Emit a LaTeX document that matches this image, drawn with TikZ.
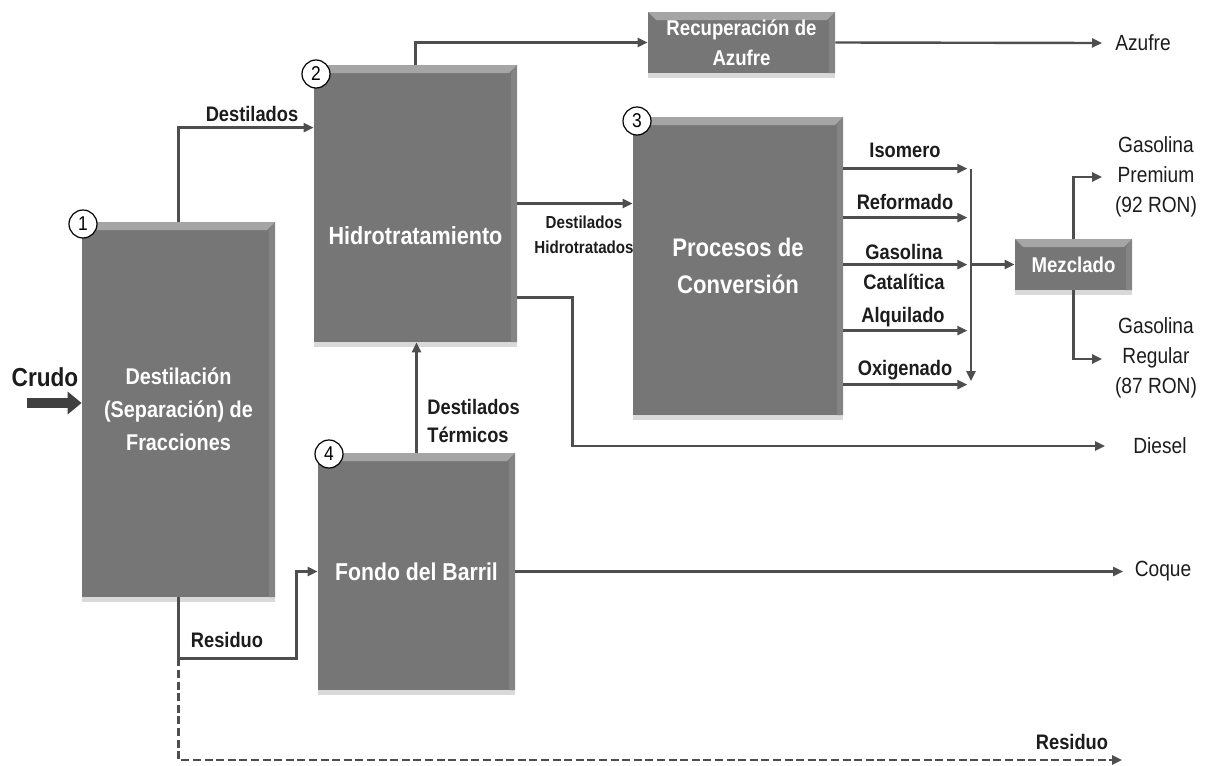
\documentclass[tikz,border=0pt]{standalone}
\usepackage{fontspec}
\setmainfont{Liberation Sans}[FakeStretch=0.87]
\usetikzlibrary{arrows.meta, calc, positioning, shadows}

\definecolor{boxgray}{RGB}{118,118,118}
\definecolor{boxtop}{RGB}{165,165,165}
\definecolor{boxside}{RGB}{132,132,132}
\definecolor{linegray}{RGB}{78,78,78}
\definecolor{txtdark}{RGB}{28,28,28}

\tikzset{
  unit/.style={rectangle, fill=boxgray, inner sep=0pt, text=white, align=center,
    drop shadow={shadow xshift=0pt, shadow yshift=-2.5pt, opacity=0.3},
    path picture={
      \fill[boxtop] (path picture bounding box.north west) -- (path picture bounding box.north east)
        -- ([xshift=-4pt,yshift=-4pt]path picture bounding box.north east)
        -- ([xshift=4pt,yshift=-4pt]path picture bounding box.north west) -- cycle;
      \fill[boxside] (path picture bounding box.north east) -- (path picture bounding box.south east)
        -- ([xshift=-3pt]path picture bounding box.south east)
        -- ([xshift=-3pt,yshift=-4pt]path picture bounding box.north east) -- cycle;
    }},
  num/.style={circle, draw=black, line width=0.6pt, fill=white, inner sep=0pt,
    minimum size=14pt, font=\fontsize{10}{10}\selectfont},
  lab/.style={text=txtdark, inner sep=0pt, align=center, font=\fontsize{10.5}{15}\selectfont\bfseries},
  outlab/.style={text=txtdark, inner sep=0pt, align=center, font=\fontsize{11}{15}\selectfont},
  flow/.style={draw=linegray, line width=1.2pt, -{Triangle[length=5pt,width=4.5pt]}}
}

\begin{document}
\begin{tikzpicture}[x=0.5pt, y=-0.5pt]
    \useasboundingbox (0,0) rectangle (1207,766);

    % Process units
    \node[unit, minimum width=96.5pt, minimum height=187.5pt,
      font=\fontsize{11.4}{16.5}\selectfont\bfseries] (dest) at (178.5,409.5)
      {Destilación\\(Separación) de\\Fracciones};
    \node[unit, minimum width=101.5pt, minimum height=138.5pt] (hidro) at (415.5,203.5) {};
    \node[unit, minimum width=105pt, minimum height=149pt,
      font=\fontsize{12.7}{18.5}\selectfont\bfseries] (conv) at (738,266)
      {Procesos de\\Conversión};
    \node[unit, minimum width=98.5pt, minimum height=118.5pt,
      font=\fontsize{12.2}{15}\selectfont\bfseries] (fondo) at (416.5,571.5) {Fondo del Barril};
    \node[unit, minimum width=93.5pt, minimum height=30.5pt,
      font=\fontsize{10.7}{15}\selectfont\bfseries] (azuf) at (741.5,42.5) {Recuperación de\\Azufre};
    \node[unit, minimum width=58.5pt, minimum height=25.5pt,
      font=\fontsize{10.7}{13}\selectfont\bfseries] (mezcla) at (1073.5,264.5) {Mezclado};
    \node[text=white, font=\fontsize{12.4}{14}\selectfont\bfseries] (hidrotxt) at (415.5,236) {Hidrotratamiento};

    % Numbers
    \node[num] (n1) at (83,224) {1};
    \node[num] (n2) at (316,74) {2};
    \node[num] (n3) at (637,121) {3};
    \node[num] (n4) at (329,454) {4};

    % Crude feed
    \coordinate (crudoin) at (27,403);
    \draw[line width=5pt, draw=black!75, -{Triangle[length=7pt,width=11pt]}] (crudoin) -- (crudoin -| dest.west);
    \node[lab, font=\fontsize{13}{13}\selectfont\bfseries] (crudo) at (45,377) {Crudo};

    % Streams
    \draw[flow] (dest.north) |- ($(hidro.north west)+(0,63)$);
    \node[lab] (ldest) at (252,114) {Destilados};
    \draw[flow] (hidro.north) |- (azuf.west);
    \coordinate (azufout) at (1102,43);
    \draw[flow] (azuf.east) -- (azufout);
    \node[outlab] (lazuf) at (1143,43) {Azufre};
    \draw[flow] (hidro.east) -- (hidro.east -| conv.west);
    \node[lab, font=\fontsize{8.7}{12.5}\selectfont\bfseries] (lhidro) at (584,235) {Destilados\\Hidrotratados};
    \coordinate (dieselout) at (1105,446);
    \draw[flow] ($(hidro.south east)+(0,-45)$) -- ++(55,0) |- (dieselout);
    \node[outlab] (ldiesel) at (1160,446) {Diesel};
    \draw[flow] (fondo.north) -- (fondo.north |- hidro.south);
    \node[lab, align=left, anchor=west, font=\fontsize{10.5}{14}\selectfont\bfseries] (lterm) at (427,421) {Destilados\\Térmicos};
    \draw[flow] (dest.south) -- ++(0,61) coordinate (split) -| ($(fondo.west)+(-21,0)$) -- (fondo.west);
    \node[lab] (lres) at (227,640) {Residuo};
    \coordinate (coqueout) at (1123,571.5);
    \draw[flow] (fondo.east) -- (coqueout);
    \node[outlab] (lcoque) at (1163,571) {Coque};
    \coordinate (resout) at (1122,760);
    \draw[flow, dash pattern=on 4pt off 1.8pt] (split) |- (resout);
    \node[lab] (lres2) at (1072,742) {Residuo};

    % Conversion products
    \foreach \dy in {52,101,148,214,268}
        \draw[flow] ($(conv.north east)+(0,\dy)$) -- ++(124,0);
    \node[lab] (liso) at (905,150) {Isomero};
    \node[lab] (lref) at (905,202) {Reformado};
    \node[lab] (lgas) at (904,267) {Gasolina\\Catalítica};
    \node[lab] (lalq) at (903,317) {Alquilado};
    \node[lab] (loxi) at (905,370) {Oxigenado};
    \coordinate (bustop) at (971,169);
    \coordinate (busbot) at (971,381);
    \draw[flow] (bustop) -- (busbot);
    \draw[flow] (bustop |- mezcla.west) -- (mezcla.west);

    % Blending
    \coordinate (premout) at (1102,177);
    \coordinate (regout) at (1102,359);
    \draw[flow] (mezcla.north) |- (premout);
    \draw[flow] (mezcla.south) |- (regout);
    \node[outlab] (lprem) at (1156,177) {Gasolina\\Premium\\(92 RON)};
    \node[outlab] (lreg) at (1156,358) {Gasolina\\Regular\\(87 RON)};
\end{tikzpicture}
\end{document}
